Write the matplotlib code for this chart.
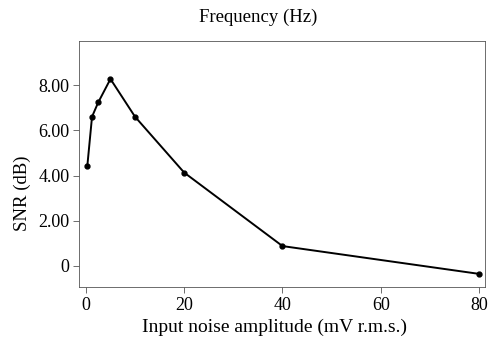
import matplotlib
matplotlib.use("Agg")
import matplotlib.pyplot as plt

# input noise amplitude (mV r.m.s.) vs SNR (dB)
noise = [0.3, 1.25, 2.5, 5, 10, 20, 40, 80]
snr = [4.44, 6.6, 7.23, 8.27, 6.6, 4.13, 0.88, -0.35]

xticks = [0, 20, 40, 60, 80]
yticks = [0, 2, 4, 6, 8]
ytick_labels = ["0", "2.00", "4.00", "6.00", "8.00"]

plt.rcParams['font.family'] = ['Liberation Serif', 'DejaVu Serif']

fig = plt.figure(figsize=(4.9, 3.49), dpi=100)
ax = fig.add_axes([79 / 490, 1 - 287 / 349, 406 / 490, 246 / 349])

ax.plot(noise, snr, color='black', lw=1.4, marker='o', markersize=3.5)

ax.set_xlim(-1.4, 81.2)
ax.set_ylim(-0.93, 9.95)
ax.set_xticks(xticks)
ax.set_yticks(yticks)
ax.set_yticklabels(ytick_labels)
ax.tick_params(labelsize=13, length=4, width=0.6, color='#555555', pad=3)

for s in ax.spines.values():
    s.set_linewidth(0.6)
    s.set_color('#555555')

fig.text(258 / 490, 1 - 17 / 349, "Frequency (Hz)", ha='center', va='center', fontsize=13.5)
fig.text(275 / 490, 1 - 327 / 349, "Input noise amplitude (mV r.m.s.)", ha='center', va='center', fontsize=14)
fig.text(22 / 490, 1 - 193 / 349, "SNR (dB)", ha='center', va='center', rotation=90, fontsize=13.5)

fig.savefig("out.png", dpi=100)
